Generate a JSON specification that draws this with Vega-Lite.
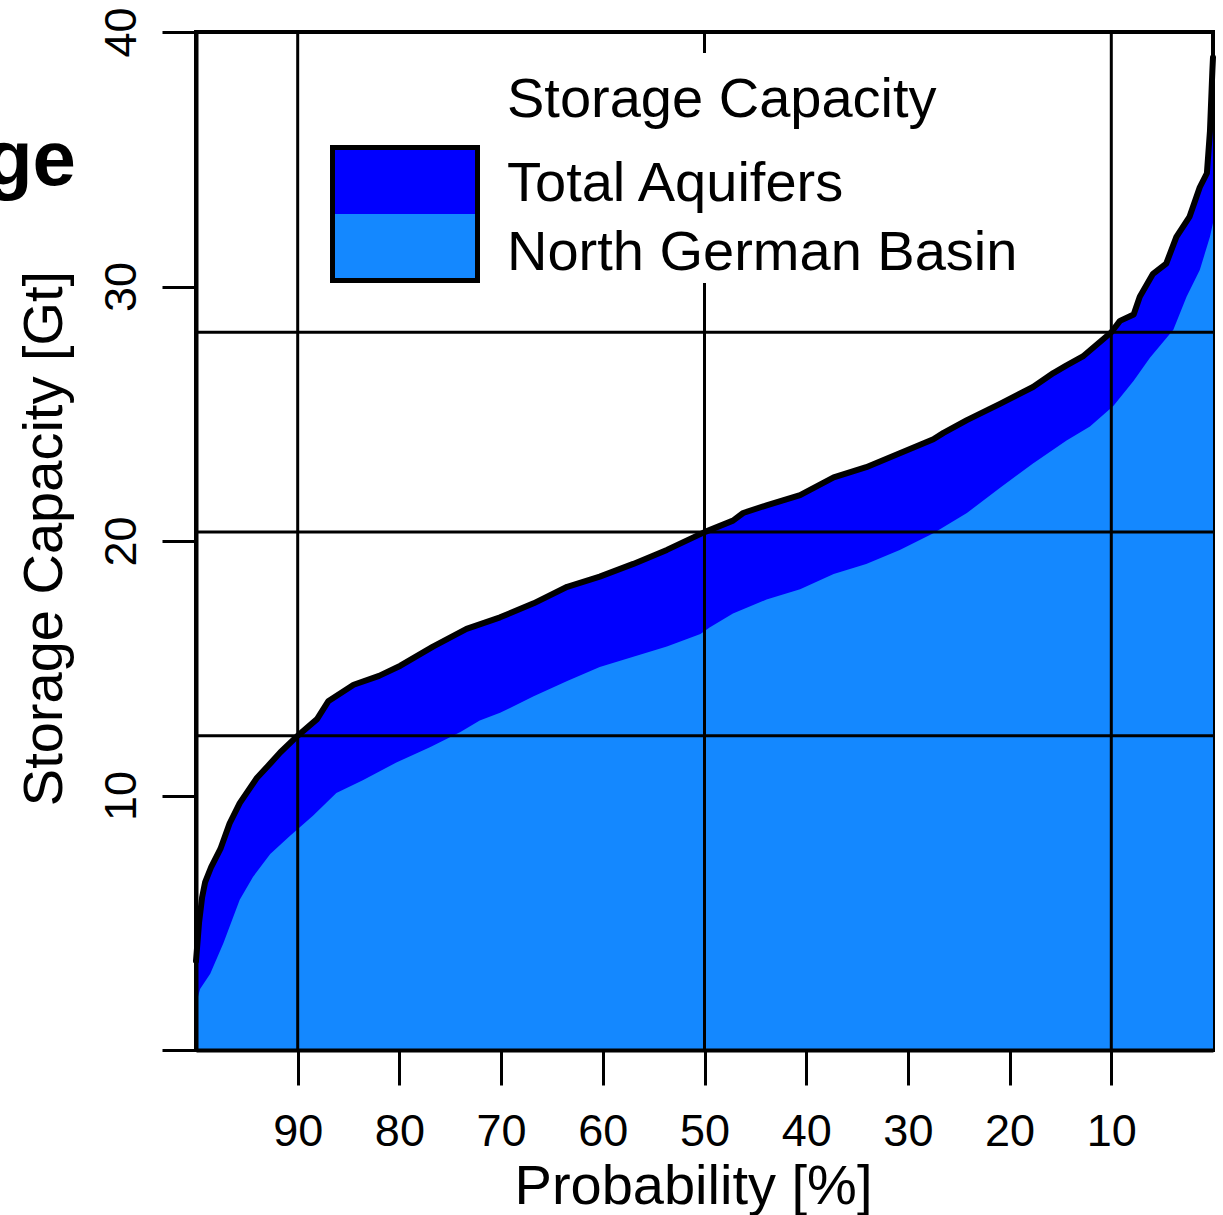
{
  "$schema": "https://vega.github.io/schema/vega-lite/v6.json",
  "width": 1017,
  "height": 1018,
  "autosize": {"type": "none"},
  "padding": {"left": 196, "top": 32, "right": 10, "bottom": 165},
  "background": "white",
  "config": {
    "font": "Liberation Sans",
    "view": {"stroke": "black", "strokeWidth": 4}
  },
  "title": {
    "text": "Storage",
    "anchor": "start",
    "frame": "group",
    "orient": "top",
    "align": "right",
    "baseline": "alphabetic",
    "offset": 0,
    "dx": -120,
    "dy": 256,
    "fontSize": 78,
    "fontWeight": "bold",
    "font": "Liberation Sans",
    "color": "black"
  },
  "datasets": {
    "curves": [
      {"series": "Total Aquifers", "p": 100, "v": 3.5},
      {"series": "Total Aquifers", "p": 99.7, "v": 5.0},
      {"series": "Total Aquifers", "p": 99.4, "v": 6.0},
      {"series": "Total Aquifers", "p": 99.1, "v": 6.6},
      {"series": "Total Aquifers", "p": 98.5, "v": 7.2},
      {"series": "Total Aquifers", "p": 97.6, "v": 7.9},
      {"series": "Total Aquifers", "p": 96.7, "v": 8.9},
      {"series": "Total Aquifers", "p": 95.7, "v": 9.7},
      {"series": "Total Aquifers", "p": 94.0, "v": 10.7},
      {"series": "Total Aquifers", "p": 92.6, "v": 11.3},
      {"series": "Total Aquifers", "p": 91.7, "v": 11.7},
      {"series": "Total Aquifers", "p": 90.0, "v": 12.35},
      {"series": "Total Aquifers", "p": 88.1, "v": 13.0},
      {"series": "Total Aquifers", "p": 87.0, "v": 13.7},
      {"series": "Total Aquifers", "p": 84.5, "v": 14.35},
      {"series": "Total Aquifers", "p": 82.0, "v": 14.7},
      {"series": "Total Aquifers", "p": 79.9, "v": 15.1},
      {"series": "Total Aquifers", "p": 76.7, "v": 15.85},
      {"series": "Total Aquifers", "p": 73.4, "v": 16.55},
      {"series": "Total Aquifers", "p": 70.1, "v": 17.0},
      {"series": "Total Aquifers", "p": 66.8, "v": 17.55},
      {"series": "Total Aquifers", "p": 63.5, "v": 18.2},
      {"series": "Total Aquifers", "p": 60.3, "v": 18.6},
      {"series": "Total Aquifers", "p": 57.0, "v": 19.1},
      {"series": "Total Aquifers", "p": 53.7, "v": 19.65},
      {"series": "Total Aquifers", "p": 50.0, "v": 20.35},
      {"series": "Total Aquifers", "p": 47.2, "v": 20.8},
      {"series": "Total Aquifers", "p": 46.2, "v": 21.1},
      {"series": "Total Aquifers", "p": 43.9, "v": 21.4},
      {"series": "Total Aquifers", "p": 40.6, "v": 21.8},
      {"series": "Total Aquifers", "p": 37.3, "v": 22.5},
      {"series": "Total Aquifers", "p": 34.1, "v": 22.9},
      {"series": "Total Aquifers", "p": 30.8, "v": 23.45},
      {"series": "Total Aquifers", "p": 27.5, "v": 24.0},
      {"series": "Total Aquifers", "p": 26.5, "v": 24.25},
      {"series": "Total Aquifers", "p": 24.2, "v": 24.75},
      {"series": "Total Aquifers", "p": 20.9, "v": 25.4},
      {"series": "Total Aquifers", "p": 17.7, "v": 26.05},
      {"series": "Total Aquifers", "p": 15.7, "v": 26.6},
      {"series": "Total Aquifers", "p": 14.4, "v": 26.9},
      {"series": "Total Aquifers", "p": 12.8, "v": 27.25},
      {"series": "Total Aquifers", "p": 10.0, "v": 28.2},
      {"series": "Total Aquifers", "p": 9.15, "v": 28.65},
      {"series": "Total Aquifers", "p": 7.8, "v": 28.9},
      {"series": "Total Aquifers", "p": 7.2, "v": 29.6},
      {"series": "Total Aquifers", "p": 5.9, "v": 30.5},
      {"series": "Total Aquifers", "p": 4.6, "v": 30.9},
      {"series": "Total Aquifers", "p": 3.6, "v": 31.95},
      {"series": "Total Aquifers", "p": 2.3, "v": 32.75},
      {"series": "Total Aquifers", "p": 1.3, "v": 33.9},
      {"series": "Total Aquifers", "p": 0.6, "v": 34.45},
      {"series": "Total Aquifers", "p": 0.3, "v": 36.1},
      {"series": "Total Aquifers", "p": 0.06, "v": 38.5},
      {"series": "Total Aquifers", "p": 0, "v": 39.0},
      {"series": "North German Basin", "p": 100, "v": 1.8},
      {"series": "North German Basin", "p": 99.6, "v": 2.4},
      {"series": "North German Basin", "p": 98.6, "v": 3.0},
      {"series": "North German Basin", "p": 97.3, "v": 4.2},
      {"series": "North German Basin", "p": 95.7, "v": 5.9},
      {"series": "North German Basin", "p": 94.4, "v": 6.8},
      {"series": "North German Basin", "p": 92.7, "v": 7.7},
      {"series": "North German Basin", "p": 90.8, "v": 8.4},
      {"series": "North German Basin", "p": 88.5, "v": 9.2},
      {"series": "North German Basin", "p": 86.2, "v": 10.1},
      {"series": "North German Basin", "p": 83.6, "v": 10.6},
      {"series": "North German Basin", "p": 80.3, "v": 11.3},
      {"series": "North German Basin", "p": 77.0, "v": 11.9},
      {"series": "North German Basin", "p": 74.0, "v": 12.5},
      {"series": "North German Basin", "p": 72.1, "v": 12.95},
      {"series": "North German Basin", "p": 70.1, "v": 13.25},
      {"series": "North German Basin", "p": 66.8, "v": 13.9},
      {"series": "North German Basin", "p": 63.5, "v": 14.5},
      {"series": "North German Basin", "p": 60.3, "v": 15.05},
      {"series": "North German Basin", "p": 57.0, "v": 15.45},
      {"series": "North German Basin", "p": 53.7, "v": 15.85},
      {"series": "North German Basin", "p": 50.4, "v": 16.35},
      {"series": "North German Basin", "p": 49.5, "v": 16.6},
      {"series": "North German Basin", "p": 47.2, "v": 17.15},
      {"series": "North German Basin", "p": 43.9, "v": 17.7},
      {"series": "North German Basin", "p": 40.6, "v": 18.1},
      {"series": "North German Basin", "p": 37.3, "v": 18.7},
      {"series": "North German Basin", "p": 34.1, "v": 19.1},
      {"series": "North German Basin", "p": 30.8, "v": 19.65},
      {"series": "North German Basin", "p": 27.5, "v": 20.3},
      {"series": "North German Basin", "p": 24.2, "v": 21.1},
      {"series": "North German Basin", "p": 20.9, "v": 22.1},
      {"series": "North German Basin", "p": 17.7, "v": 23.05},
      {"series": "North German Basin", "p": 14.4, "v": 23.95},
      {"series": "North German Basin", "p": 12.1, "v": 24.5},
      {"series": "North German Basin", "p": 9.8, "v": 25.3},
      {"series": "North German Basin", "p": 7.8, "v": 26.3},
      {"series": "North German Basin", "p": 6.2, "v": 27.2},
      {"series": "North German Basin", "p": 3.9, "v": 28.3},
      {"series": "North German Basin", "p": 2.6, "v": 29.6},
      {"series": "North German Basin", "p": 1.3, "v": 30.65},
      {"series": "North German Basin", "p": 0.3, "v": 31.95},
      {"series": "North German Basin", "p": 0, "v": 32.5}
    ],
    "pgrid": [{"p": 90}, {"p": 50}, {"p": 10}],
    "vgrid": [{"v": 12.35}, {"v": 20.35}, {"v": 28.2}]
  },
  "layer": [
    {
      "data": {"name": "curves"},
      "transform": [{"filter": "datum.series === 'Total Aquifers'"}],
      "mark": {"type": "area", "opacity": 1, "interpolate": "linear"},
      "encoding": {
        "x": {
          "field": "p", "type": "quantitative",
          "scale": {"domain": [0, 100], "reverse": true, "nice": false, "zero": false},
          "axis": {
            "title": "Probability [%]",
            "orient": "bottom",
            "values": [10, 20, 30, 40, 50, 60, 70, 80, 90],
            "grid": false,
            "domain": true, "domainColor": "black", "domainWidth": 4,
            "ticks": true, "tickSize": 35, "tickWidth": 3, "tickColor": "black",
            "labelFontSize": 45, "labelColor": "black", "labelPadding": 24,
            "labelFont": "Liberation Sans", "labelOverlap": false, "labelFlush": false,
            "labelBaseline": "top",
            "titleFontSize": 56, "titleFontWeight": "normal", "titleColor": "black",
            "titleFont": "Liberation Sans",
            "titleX": 497, "titleY": 109, "titleBaseline": "top", "titleAlign": "center",
            "zindex": 2
          }
        },
        "y": {
          "field": "v", "type": "quantitative", "stack": null,
          "scale": {"domain": [0, 40], "nice": false},
          "axis": {
            "title": "Storage Capacity [Gt]",
            "orient": "left",
            "values": [0, 10, 20, 30, 40],
            "labelExpr": "datum.value === 0 ? '' : datum.label",
            "grid": false,
            "domain": true, "domainColor": "black", "domainWidth": 4,
            "ticks": true, "tickSize": 34, "tickWidth": 3, "tickColor": "black",
            "labelFontSize": 45, "labelColor": "black", "labelPadding": 18,
            "labelFont": "Liberation Sans", "labelOverlap": false, "labelFlush": false,
            "labelAngle": 270, "labelAlign": "center", "labelBaseline": "bottom",
            "titleFontSize": 56, "titleFontWeight": "normal", "titleColor": "black",
            "titleFont": "Liberation Sans",
            "titleAngle": 270, "titleX": -123, "titleY": 506,
            "titleBaseline": "bottom", "titleAlign": "center",
            "zindex": 2
          }
        },
        "color": {
          "field": "series", "type": "nominal",
          "scale": {"domain": ["Total Aquifers", "North German Basin"], "range": ["#0000ff", "#1488ff"]},
          "legend": {
            "orient": "none",
            "legendX": 134,
            "legendY": 21,
            "padding": 0,
            "fillColor": "white",
            "title": "Storage Capacity",
            "titleFontSize": 56,
            "titleFont": "Liberation Sans",
            "titleFontWeight": "normal",
            "titleColor": "black",
            "titleLimit": 900,
            "titleAnchor": "start",
            "titlePadding": 36,
            "symbolType": "square",
            "symbolSize": 21025,
            "symbolStrokeColor": "black",
            "symbolStrokeWidth": 5,
            "symbolOpacity": 1,
            "labelFontSize": 56,
            "labelFont": "Liberation Sans",
            "labelColor": "black",
            "labelOffset": 27,
            "labelLimit": 900,
            "clipHeight": 69,
            "rowPadding": 0,
            "encode": {
              "symbols": {
                "update": {
                  "shape": {"signal": "datum.value === 'Total Aquifers' ? 'M-1,0.4759V-0.4414H1V0.4759' : 'M-1,-0.4759V0.4414H1V-0.4759'"},
                  "stroke": {"value": "black"},
                  "strokeWidth": {"value": 5}
                }
              },
              "title": {"update": {"dy": {"value": 20}, "dx": {"value": 177}}},
              "labels": {"update": {"dy": {"value": 4}}}
            }
          }
        }
      }
    },
    {
      "data": {"name": "curves"},
      "transform": [{"filter": "datum.series === 'North German Basin'"}],
      "mark": {"type": "area", "opacity": 1, "interpolate": "linear"},
      "encoding": {
        "x": {"field": "p", "type": "quantitative", "title": "Probability [%]"},
        "y": {"field": "v", "type": "quantitative", "stack": null, "title": "Storage Capacity [Gt]"},
        "color": {"field": "series", "type": "nominal"}
      }
    },
    {
      "data": {"name": "pgrid"},
      "mark": {"type": "rule", "color": "black", "strokeWidth": 3},
      "encoding": {
        "x": {"field": "p", "type": "quantitative", "title": "Probability [%]"}
      }
    },
    {
      "data": {"name": "vgrid"},
      "mark": {"type": "rule", "color": "black", "strokeWidth": 3},
      "encoding": {
        "y": {"field": "v", "type": "quantitative", "title": "Storage Capacity [Gt]"}
      }
    },
    {
      "data": {"name": "curves"},
      "transform": [{"filter": "datum.series === 'Total Aquifers'"}],
      "mark": {"type": "line", "color": "black", "strokeWidth": 6, "strokeJoin": "round", "strokeCap": "round"},
      "encoding": {
        "x": {"field": "p", "type": "quantitative", "title": "Probability [%]"},
        "y": {"field": "v", "type": "quantitative", "title": "Storage Capacity [Gt]"}
      }
    }
  ]
}
